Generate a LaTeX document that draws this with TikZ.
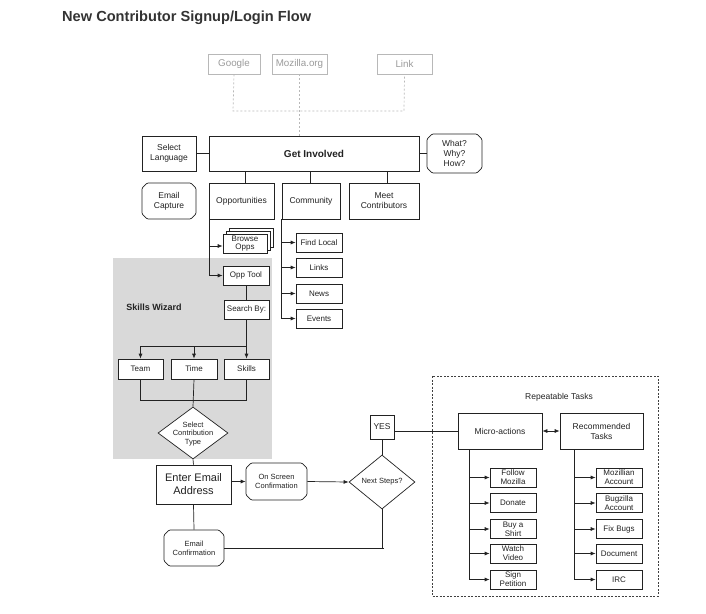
\documentclass[tikz,border=0pt]{standalone}
\usepackage{fontspec}
\setmainfont{Liberation Sans}
\usetikzlibrary{arrows.meta,shapes.geometric,shapes.misc}
\definecolor{ink}{HTML}{222222}
\definecolor{ghost}{HTML}{9A9A9A}
\definecolor{ghostline}{HTML}{B8B8B8}
\definecolor{wizard}{HTML}{D9D9D9}
\begin{document}
\begin{tikzpicture}[x=1pt,y=-1pt,
  box/.style={draw=ink,line width=0.7pt,fill=white,inner sep=0pt,align=center,
    font=\fontsize{8.5}{10}\selectfont,text=ink},
  small/.style={box,font=\fontsize{8}{9}\selectfont},
  wh/.style 2 args={minimum width=#1pt,minimum height=#2pt},
  ghostbox/.style={draw=ghostline,line width=0.7pt,inner sep=0pt,text=ghost,
    font=\fontsize{9.8}{11}\selectfont,minimum height=20pt},
  cham/.style={box,chamfered rectangle,chamfered rectangle xsep=2.6pt,chamfered rectangle ysep=2.6pt,rounded corners=1pt},
  dia/.style={draw=ink,line width=0.7pt,fill=white,diamond,inner sep=0pt},
  ln/.style={draw=ink,line width=0.7pt},
  arr/.style={ln,-{Latex[length=5pt,width=4pt]}},
  darr/.style={ln,{Latex[length=5pt,width=4pt]}-{Latex[length=5pt,width=4pt]}},
  gdash/.style={draw=ghostline,line width=0.7pt,dash pattern=on 2pt off 2pt}]
\useasboundingbox (0,0) rectangle (706,613);

% title
\node[anchor=west,font=\fontsize{14.6}{16}\selectfont\bfseries,text=black!80,inner sep=0pt] (title) at (62,18) {New Contributor Signup/Login Flow};

% skills wizard background
\fill[wizard] (113,258) rectangle (272,459);
\node[font=\fontsize{9}{11}\selectfont\bfseries,text=ink,inner sep=0pt] (swlabel) at (154,307) {Skills Wizard};

% sign-in sources
\node[ghostbox,minimum width=52pt] (google) at (234,64) {Google};
\node[ghostbox,minimum width=55pt] (mozorg) at (299.5,64) {Mozilla.org};
\node[ghostbox,minimum width=55pt] (link) at (404.5,64) {Link};

% top row
\node[box,wh={54}{35}] (lang) at (169,153.5) {Select\\Language};
\node[box,wh={210}{35},font=\fontsize{10}{12}\selectfont\bfseries] (gi) at (314,153.5) {Get Involved};
\node[cham,wh={55}{39}] (what) at (454.5,153.5) {What?\\Why?\\How?};

\coordinate (jl) at (233,111);
\coordinate (jr) at (404,111);
\draw[gdash] (google.south) -- (jl) -- (jr) -- (link.south);
\draw[gdash] (mozorg.south) -- (mozorg.south |- gi.north);

\draw[ln] (lang.east) -- (gi.west);
\draw[ln] (gi.east) -- (what.west);

% second row
\node[cham,wh={54}{36}] (ecap) at (169,201) {Email\\Capture};
\node[box,wh={65}{36}] (opp) at (241.5,201) {Opportunities};
\node[box,wh={58}{36}] (comm) at (311,201) {Community};
\node[box,wh={70}{36}] (meet) at (384,201) {Meet\\Contributors};

\draw[ln] (gi.south -| 245,0) -- (opp.north -| 245,0);
\draw[ln] (gi.south -| 310,0) -- (comm.north -| 310,0);
\draw[ln] (gi.south -| 387,0) -- (meet.north -| 387,0);

% opportunities branch
\draw[box] (229,228) rectangle (273,247);
\draw[box] (226,231) rectangle (270,250);
\node[small,wh={44}{19},font=\fontsize{8}{8.6}\selectfont] (browse) at (245,243.5) {Browse\\Opps};
\node[small,wh={46}{19}] (opptool) at (246,275.5) {Opp Tool};
\coordinate (oppdown) at (209,219);
\draw[arr] (oppdown) |- (opptool.west);
\draw[arr] (209,246) -- (browse.west |- 209,246);

% community branch
\node[small,wh={46}{19}] (find) at (319,242.5) {Find Local};
\node[small,wh={46}{19}] (links) at (319,267.5) {Links};
\node[small,wh={46}{19}] (news) at (319,293.5) {News};
\node[small,wh={46}{19}] (events) at (319,318.5) {Events};
\coordinate (commdown) at (281,219);
\draw[arr] (commdown) |- (events.west);
\draw[arr] (281,242.5) -- (find.west);
\draw[arr] (281,267.5) -- (links.west);
\draw[arr] (281,293.5) -- (news.west);

% skills wizard
\node[small,wh={45}{19}] (search) at (246.5,309.5) {Search By:};
\draw[ln] (opptool.south -| search.north) -- (search.north);
\node[small,wh={45}{20}] (team) at (140.5,369) {Team};
\node[small,wh={46}{20}] (time) at (194,369) {Time};
\node[small,wh={45}{20}] (skills) at (246.5,369) {Skills};
\coordinate (sbj) at (246.5,346);
\draw[ln] (search.south) -- (sbj);
\draw[ln] (team.north |- sbj) -- (sbj);
\draw[arr] (team.north |- sbj) -- (team.north);
\draw[arr] (time.north |- sbj) -- (time.north);
\draw[arr] (sbj) -- (skills.north);

\node[dia,minimum width=70pt,minimum height=52pt] (sct) at (193,433) {};
\node[align=center,inner sep=0pt,font=\fontsize{7.5}{8.5}\selectfont,text=ink] (scttext) at (193,434) {Select\\Contribution\\Type};
\coordinate (mj) at (193,400);
\draw[ln] (team.south) |- (skills.south |- mj) -- (skills.south);
\draw[ln] (time.south) -- (sct.north);

% email flow
\node[box,wh={75}{39},font=\fontsize{11}{13}\selectfont] (enter) at (193.5,484.5) {Enter Email\\Address};
\node[cham,wh={61}{37},font=\fontsize{7.5}{9}\selectfont] (onscreen) at (276.5,481.5) {On Screen\\Confirmation};
\node[dia,minimum width=66pt,minimum height=54pt] (next) at (382,482) {};
\node[inner sep=0pt,font=\fontsize{7.5}{9}\selectfont,text=ink] (nexttext) at (382,482) {Next Steps?};
\node[cham,wh={60}{36},font=\fontsize{7.5}{9}\selectfont] (econf) at (194,548) {Email\\Confirmation};

\draw[ln] (sct.south) -- (enter.north);
\draw[arr] (enter.east |- onscreen.west) -- (onscreen.west);
\draw[arr] (onscreen.east) -- (next.west);
\draw[ln] (enter.south) -- (econf.north);
\coordinate (nsj) at (382,548);
\coordinate (nse) at (384,548);
\draw[ln] (next.south) -- (nsj);
\draw[ln] (econf.east) -- (nse);

\node[small,wh={24}{24},font=\fontsize{8.5}{10}\selectfont] (yes) at (382,427) {YES};
\draw[ln] (yes.south) -- (next.north);

% repeatable tasks
\draw[draw=black!75,line width=0.7pt,dash pattern=on 2pt off 1.5pt] (432,376) rectangle (658,596);
\node[inner sep=0pt,font=\fontsize{8.5}{10}\selectfont,text=ink] (rep) at (559,397) {Repeatable Tasks};
\node[box,wh={84}{36}] (micro) at (500,431) {Micro-actions};
\node[box,wh={83}{36}] (rec) at (601.5,431) {Recommended\\Tasks};
\draw[ln] (yes.east |- micro.west) -- (micro.west);
\draw[darr] (micro.east) -- (rec.west);

\foreach \n/\t/\y in {m1/{Follow\\Mozilla}/477.5, m2/{Donate}/503, m3/{Buy a\\Shirt}/529, m4/{Watch\\Video}/553.5, m5/{Sign\\Petition}/579.5}{
  \node[small,wh={46}{19},font=\fontsize{8}{9.2}\selectfont] (\n) at (513,\y) {\t};
}
\foreach \n/\t/\y in {r1/{Mozillian\\Account}/477.5, r2/{Bugzilla\\Account}/503, r3/{Fix Bugs}/529, r4/{Document}/553.5, r5/{IRC}/579.5}{
  \node[small,wh={46}{19},font=\fontsize{8}{9.2}\selectfont] (\n) at (619,\y) {\t};
}
\coordinate (mdown) at (469,449);
\coordinate (rdown) at (574,449);
\draw[arr] (mdown) |- (m5.west);
\draw[arr] (rdown) |- (r5.west);
\foreach \k in {1,2,3,4}{
  \draw[arr] (mdown |- m\k.west) -- (m\k.west);
  \draw[arr] (rdown |- r\k.west) -- (r\k.west);
}
\end{tikzpicture}
\end{document}
